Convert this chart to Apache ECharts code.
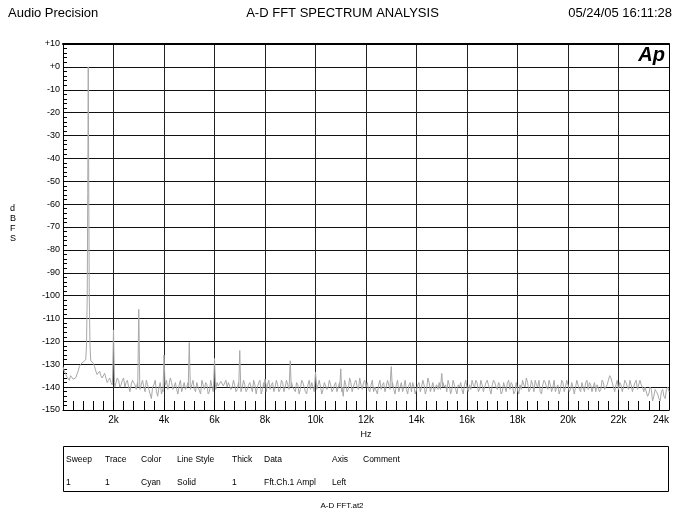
<!DOCTYPE html>
<html>
<head>
<meta charset="utf-8">
<script src="https://cdn.jsdelivr.net/npm/echarts@6/dist/echarts.min.js"></script>
<style>
html,body{margin:0;padding:0;background:#fff;}
#chart{width:685px;height:512px;}
</style>
</head>
<body>
<div id="chart"></div>
<script>
// ---- data ----
// noise floor at 0, 100, 200 ... 24000 Hz (dBFS)
const noiseStepHz = 100;
const noise = [
  -131,-134,-136,-135,-136.5,-136,-133,-130,-129,-128,
  -128,-128.5,-129.5,-133,-134,-135,-135.5,-136,-137,-138,
  -137,-138,-137,-139,-136,-138,-140,-139,-138,-141,
  -139,-139,-140,-137,-141,-145,-139,-142,-140,-143,
  -140,-137,-139,-138,-140,-141,-139,-142,-138,-140,
  -140,-139,-141,-138,-140,-137,-141,-139,-142,-140,
  -140,-138,-138.5,-138,-139,-140,-138,-140,-139,-141,
  -140,-140,-139,-141,-138,-142,-139,-140,-137,-141,
  -140,-139,-141,-138,-140,-139,-141,-138,-140,-139,
  -140,-140,-142,-139,-141,-138,-142,-139,-141,-140,
  -140,-139,-140,-141,-138,-140,-139,-141,-138,-140,
  -140,-144,-139,-141,-138,-140,-137,-141,-139,-138,
  -140,-141,-139,-142,-140,-139,-141,-138,-140,-137,
  -140,-141,-139,-142,-138,-140,-141,-139,-142,-140,
  -141,-138,-140,-139,-141,-138,-140,-142,-139,-138,
  -140,-140,-142,-139,-141,-139,-143,-140,-141,-139,
  -140,-139,-137,-140,-138,-141,-139,-140,-137,-141,
  -139,-138,-141,-139,-142,-140,-138,-141,-139,-142,
  -141,-139,-137,-140,-138,-141,-139,-137,-140,-142,
  -139,-138,-141,-139,-140,-142,-139,-141,-138,-140,
  -139,-141,-138,-140,-139,-142,-140,-138,-141,-139,
  -140,-142,-139,-141,-138,-140,-137,-136,-140,-139,
  -141,-139,-140,-138,-141,-139,-140,-137,-141,-139,
  -142,-140,-143,-141,-144,-142,-145,-142,-144,-141,
  -142
];
// noise floor at 50, 150, 250 ... 23950 Hz (dBFS)
const noiseMid = [
  -133,-135.5,-137,-135,-137,-134.5,-131,-129.5,-128.5,-128,
  -128,-129,-131,-134.5,-133,-136,-134,-138,-136,-139,
  -140,-136,-140,-137,-140,-137,-142,-137,-139,-138,
  -141,-137,-142,-139,-143,-140,-137,-144,-138,-141,
  -139,-141,-136,-141,-138,-143,-137,-140,-141,-138,
  -141,-137,-142,-140,-143,-139,-138,-143,-137,-142,
  -141,-139.5,-137.5,-139.5,-137,-138,-141,-137,-142,-138,
  -142,-137,-142,-139,-140,-137,-143,-138,-143,-138,
  -142,-137,-139,-142,-137,-142,-137,-142,-137,-141,
  -138,-141,-138,-143,-137,-140,-143,-137,-138,-142,
  -141,-137,-143,-138,-141,-137,-142,-139,-142,-138,
  -140,-137,-142,-136,-142,-138,-140,-136,-141,-137,
  -138,-142,-137,-140,-143,-137,-139,-142,-137,-141,
  -138,-143,-137,-140,-142,-137,-143,-138,-138,-143,
  -139,-142,-137,-143,-136,-142,-138,-140,-141,-141,
  -138,-139,-137,-143,-137,-141,-139,-138,-143,-137,
  -142,-141,-139,-137,-142,-137,-142,-138,-139,-143,
  -137,-140,-138,-143,-138,-142,-137,-138,-143,-138,
  -143,-141,-139,-136,-142,-137,-142,-139,-137,-143,
  -137,-140,-137,-142,-137,-140,-143,-137,-142,-137,
  -142,-138,-143,-137,-141,-138,-142,-137,-138,-142,
  -138,-139,-142,-137,-141,-139,-135,-138,-142,-137,
  -138,-142,-137,-140,-137,-142,-138,-141,-137,-140,
  -140,-144,-140,-146,-141,-143,-146,-141,-145,-140
];
// fundamental and harmonic spikes, each group: [[Hz, dBFS], ...]
const spikeGroups = [
  [[900,-128],[930,-122],[960,-100],[980,-55],[1000,0],[1020,-55],[1040,-100],[1070,-122],[1100,-128.5]],
  [[1960,-138],[2000,-115],[2040,-138]],
  [[2960,-140],[3000,-106],[3040,-139]],
  [[3960,-142],[4000,-126],[4040,-138]],
  [[4960,-140],[5000,-120.5],[5040,-139]],
  [[5960,-140],[6000,-127.5],[6040,-139]],
  [[6960,-140],[7000,-124],[7040,-140]],
  [[7960,-140],[8000,-136.5],[8040,-139]],
  [[8960,-139],[9000,-128.5],[9040,-140]],
  [[9960,-140],[10000,-133.5],[10040,-139]],
  [[10960,-140],[11000,-132],[11040,-142]],
  [[12960,-138],[13000,-131],[13040,-140]],
  [[14960,-139],[15000,-134],[15040,-140]]
];
const xMin = 0, xMax = 24000, xStep = 2000, xMinorStep = 400;
const yMin = -150, yMax = 10, yStep = 10;

const tableHeader = ['Sweep','Trace','Color','Line Style','Thick','Data','Axis','Comment'];
const tableRow    = ['1','1','Cyan','Solid','1','Fft.Ch.1 Ampl','Left',''];
const titleLeft = 'Audio Precision';
const titleCenter = 'A-D FFT SPECTRUM ANALYSIS';
const titleRight = '05/24/05 16:11:28';
const footer = 'A-D FFT.at2';

// ---- build series ----
const pts = [];
noise.forEach((v, i) => pts.push([i * noiseStepHz, v]));
noiseMid.forEach((v, i) => pts.push([i * noiseStepHz + noiseStepHz / 2, v]));
const insideSpike = f => spikeGroups.some(g => f >= g[0][0] && f <= g[g.length - 1][0]);
const seriesData = pts.filter(p => !insideSpike(p[0]));
spikeGroups.forEach(g => g.forEach(p => seriesData.push(p)));
seriesData.sort((a, b) => a[0] - b[0]);

const FONT = 'Liberation Sans, Arial, sans-serif';
const colX = [66,105,141,177,232,264,332,363];

const graphics = [
  {type:'text', left:10, top:204, style:{text:'d\nB\nF\nS', font:'9px ' + FONT, fill:'#000', lineHeight:10, align:'center'}},
  {type:'text', right:20, top:45, style:{text:'Ap', font:'italic bold 20px ' + FONT, fill:'#000'}},
  {type:'rect', shape:{x:63.5, y:446.5, width:605, height:45}, style:{fill:null, stroke:'#000', lineWidth:1}},
  {type:'text', x:342, y:506, style:{text:footer, font:'8px ' + FONT, fill:'#000', align:'center', verticalAlign:'middle'}}
];
tableHeader.forEach((t, i) => graphics.push({type:'text', x:colX[i], y:460, style:{text:t, font:'8.5px ' + FONT, fill:'#000', verticalAlign:'middle'}}));
tableRow.forEach((t, i) => graphics.push({type:'text', x:colX[i], y:483, style:{text:t, font:'8.5px ' + FONT, fill:'#000', verticalAlign:'middle'}}));

const chart = echarts.init(document.getElementById('chart'), null, {renderer:'canvas'});
chart.setOption({
  animation:false,
  backgroundColor:'#fff',
  title:[
    {text:titleLeft, left:8, top:7, padding:0, textStyle:{fontSize:13, fontWeight:'normal', color:'#000', fontFamily:FONT}},
    {text:titleCenter, left:'center', top:7, padding:0, textStyle:{fontSize:13, fontWeight:'normal', color:'#000', fontFamily:FONT}},
    {text:titleRight, right:13, top:7, padding:0, textStyle:{fontSize:13, fontWeight:'normal', color:'#000', fontFamily:FONT}}
  ],
  grid:{left:63, right:16, top:44, bottom:102, containLabel:false},
  xAxis:[
    {type:'value', min:xMin, max:xMax, interval:xStep, position:'bottom',
     name:'Hz', nameLocation:'middle', nameGap:19, nameTextStyle:{fontSize:9, color:'#000', fontFamily:FONT},
     axisLine:{show:true, onZero:false, lineStyle:{color:'#000', width:1}},
     axisTick:{show:false},
     splitLine:{show:true, lineStyle:{color:'#222', width:1}},
     axisLabel:{fontSize:10, color:'#000', margin:5, fontFamily:FONT, alignMaxLabel:'right',
       formatter:v => v === 0 ? '' : (v/1000) + 'k'}},
    {type:'value', min:xMin, max:xMax, position:'top',
     axisLine:{show:true, onZero:false, lineStyle:{color:'#000', width:2}},
     axisTick:{show:false}, axisLabel:{show:false}, splitLine:{show:false}},
    {type:'value', min:xMin, max:xMax, interval:xMinorStep, position:'bottom',
     axisLine:{show:false, onZero:false},
     axisTick:{show:true, inside:true, length:9, lineStyle:{color:'#000', width:1}},
     axisLabel:{show:false}, splitLine:{show:false}}
  ],
  yAxis:[
    {type:'value', min:yMin, max:yMax, interval:yStep,
     axisLine:{show:true, onZero:false, lineStyle:{color:'#000', width:1}},
     axisTick:{show:true, inside:true, length:4, lineStyle:{color:'#000'}},
     minorTick:{show:true, splitNumber:5, length:4, lineStyle:{color:'#000', width:1}},
     splitLine:{show:true, lineStyle:{color:'#111', width:1}},
     axisLabel:{fontSize:9, color:'#000', margin:3, fontFamily:FONT,
       formatter:v => v >= 0 ? '+' + v : '' + v}},
    {type:'value', min:yMin, max:yMax, position:'right',
     axisLine:{show:true, onZero:false, lineStyle:{color:'#000', width:1}},
     axisTick:{show:false}, axisLabel:{show:false}, splitLine:{show:false}}
  ],
  series:[{
    type:'line', xAxisIndex:0, yAxisIndex:0, data:seriesData, showSymbol:false,
    lineStyle:{color:'#a8a8a8', width:1}, z:3
  }],
  graphic:graphics
});
</script>
</body>
</html>
